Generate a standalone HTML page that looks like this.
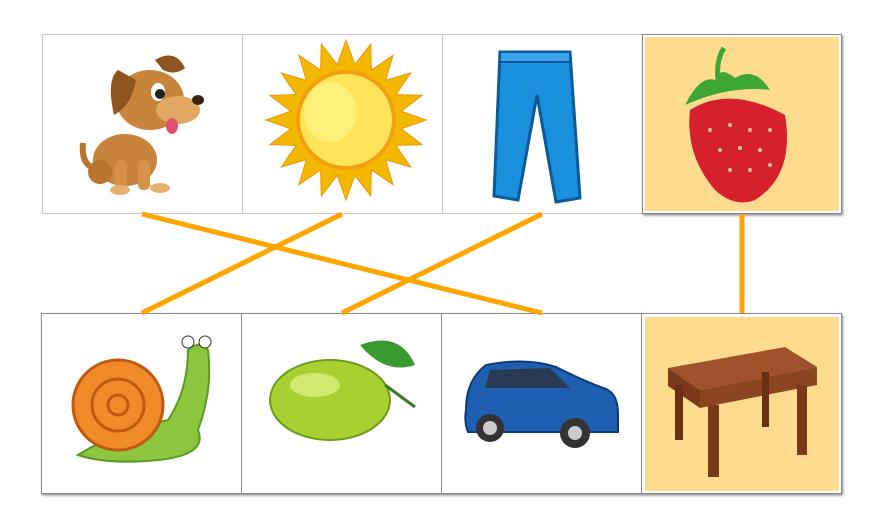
<!DOCTYPE html>
<html><head><meta charset="utf-8"><style>
html,body{margin:0;padding:0;background:#fff;width:882px;height:530px;overflow:hidden}
</style></head><body>
<svg width="882" height="530" viewBox="0 0 882 530">
<defs>
<filter id="sh" x="-5%" y="-5%" width="112%" height="112%"><feDropShadow dx="1" dy="1.5" stdDeviation="1.2" flood-color="#000" flood-opacity="0.45"/></filter>
</defs>
<g>
<rect x="42.5" y="34.5" width="200" height="179" fill="#fff" stroke="#c6c6c6"/>
<rect x="242.5" y="34.5" width="200" height="179" fill="#fff" stroke="#c6c6c6"/>
<rect x="442.5" y="34.5" width="200" height="179" fill="#fff" stroke="#c6c6c6"/>
<g filter="url(#sh)">
<rect x="642.5" y="34.5" width="199" height="179" fill="#fff" stroke="#888"/>
<rect x="645" y="37" width="194" height="174" fill="#fddc90"/>
</g>
</g>
<g filter="url(#sh)">
<rect x="41.5" y="313.5" width="200" height="180" fill="#fff" stroke="#8a8a8a"/>
<rect x="241.5" y="313.5" width="200" height="180" fill="#fff" stroke="#8a8a8a"/>
<rect x="441.5" y="313.5" width="200" height="180" fill="#fff" stroke="#8a8a8a"/>
<rect x="641.5" y="313.5" width="200" height="180" fill="#fff" stroke="#8a8a8a"/>
</g>
<rect x="645" y="317" width="194" height="174" fill="#fddc90"/>

<g id="lines" stroke="#ffa500" stroke-width="5" stroke-linecap="butt"></g>

<g>
<ellipse cx="125" cy="160" rx="32" ry="26" fill="#c8843a"/>
<ellipse cx="100" cy="172" rx="12" ry="12" fill="#b87530"/>
<path d="M93 168 q-12 -5 -10 -25" stroke="#b87530" stroke-width="6" fill="none"/>
<rect x="115" y="160" width="12" height="30" rx="5" fill="#d59248"/>
<rect x="138" y="160" width="12" height="30" rx="5" fill="#d59248"/>
<ellipse cx="120" cy="190" rx="10" ry="5" fill="#e5b070"/>
<ellipse cx="160" cy="188" rx="10" ry="5" fill="#e5b070"/>
<ellipse cx="150" cy="100" rx="34" ry="30" fill="#c8843a"/>
<ellipse cx="178" cy="110" rx="22" ry="14" fill="#e0a862"/>
<ellipse cx="198" cy="100" rx="6" ry="5" fill="#3a2010"/>
<path d="M118 70 q-12 10 -4 45 q18 -10 22 -35z" fill="#8f5520"/>
<path d="M155 60 q20 -12 30 8 q-10 8 -22 2z" fill="#8f5520"/>
<ellipse cx="158" cy="92" rx="7" ry="9" fill="#fff"/><circle cx="160" cy="94" r="5" fill="#222"/>
<ellipse cx="172" cy="126" rx="6" ry="8" fill="#e0506a"/>
</g>
<g>
<polygon id="rays" fill="#f5b800" stroke="#e8950a" stroke-width="1"/>
<circle cx="346" cy="120" r="48" fill="#ffe45a" stroke="#f0a010" stroke-width="4"/>
<ellipse cx="330" cy="112" rx="26" ry="30" fill="#fff07a"/>
</g>
<g>
<path d="M500 52 L570 52 L580 198 L556 202 L537 95 L518 200 L494 196 Z" fill="#1a8fdc" stroke="#0b5a9a" stroke-width="3"/>
<rect x="500" y="52" width="70" height="10" fill="#3aa5ea" stroke="#0b5a9a" stroke-width="2"/>
</g>
<g>
<path d="M690 110 q40 -25 95 5 q10 60 -30 85 q-20 8 -40 -10 q-30 -35 -25 -80z" fill="#d6202e"/>
<path d="M685 105 q15 -30 30 -25 q5 -15 20 -2 q20 -12 35 12 q-40 -5 -85 15z" fill="#3fa535"/>
<path d="M718 80 q-2 -20 6 -32" stroke="#3fa535" stroke-width="5" fill="none"/>
<g fill="#ffc0b0"><circle cx="710" cy="130" r="2"/><circle cx="730" cy="125" r="2"/><circle cx="750" cy="130" r="2"/><circle cx="770" cy="130" r="2"/><circle cx="720" cy="150" r="2"/><circle cx="740" cy="148" r="2"/><circle cx="760" cy="150" r="2"/><circle cx="730" cy="170" r="2"/><circle cx="750" cy="170" r="2"/><circle cx="770" cy="165" r="2"/></g>
</g>
<g>
<path d="M78 455 q40 -25 90 -35 q20 -30 20 -70 q10 -10 20 0 q5 40 -10 80 q10 25 -40 30 q-50 5 -80 -5z" fill="#8cc63f" stroke="#5a9a20" stroke-width="2"/>
<circle cx="118" cy="405" r="45" fill="#f08a2a" stroke="#c05a10" stroke-width="3"/>
<circle cx="118" cy="405" r="26" fill="none" stroke="#c05a10" stroke-width="3"/>
<circle cx="118" cy="405" r="10" fill="none" stroke="#c05a10" stroke-width="3"/>
<circle cx="188" cy="342" r="6" fill="#fff" stroke="#333"/><circle cx="205" cy="342" r="6" fill="#fff" stroke="#333"/>
</g>
<g>
<ellipse cx="330" cy="400" rx="60" ry="40" fill="#a8d030" stroke="#6a9a1a" stroke-width="2"/>
<ellipse cx="315" cy="385" rx="25" ry="12" fill="#d0ea70"/>
<path d="M360 345 q40 -15 55 20 q-30 10 -55 -20z" fill="#3a9a30"/>
<path d="M385 385 l30 22" stroke="#3a7a20" stroke-width="3"/>
</g>
<g>
<path d="M466 410 q0 -30 20 -45 q40 -8 70 2 q30 15 50 22 q12 5 12 25 l0 18 l-150 0 q-4 -10 -2 -22z" fill="#1e5fb0" stroke="#0d3a78" stroke-width="2"/>
<path d="M490 370 l60 -2 l20 20 l-85 0z" fill="#2a3a55"/>
<circle cx="490" cy="428" r="14" fill="#333"/><circle cx="490" cy="428" r="7" fill="#ccc"/>
<circle cx="575" cy="433" r="15" fill="#333"/><circle cx="575" cy="433" r="7" fill="#ccc"/>
</g>
<g>
<polygon points="668,368 785,347 817,367 700,390" fill="#a0522d"/>
<polygon points="668,368 700,390 700,408 668,386" fill="#7a3a1a"/>
<polygon points="700,390 817,367 817,385 700,408" fill="#8b4520"/>
<rect x="708" y="405" width="11" height="72" fill="#7a3a1a"/>
<rect x="797" y="385" width="10" height="70" fill="#7a3a1a"/>
<rect x="675" y="385" width="8" height="55" fill="#6a3015"/>
<rect x="762" y="372" width="7" height="55" fill="#6a3015"/>
</g>
</svg>
<script>
var topItems=["dog","sun","jeans","strawberry"];
var bottomItems=["snail","lemon","car","table"];
var matchTop=[0,1,2,3];
var matchBottom=[2,0,1,3];
var g=document.getElementById('lines');
function cx(i){return 142+200*i;}
for(var k=0;k<matchTop.length;k++){
  var l=document.createElementNS('http://www.w3.org/2000/svg','line');
  l.setAttribute('x1',cx(matchTop[k]));l.setAttribute('y1',214);
  l.setAttribute('x2',cx(matchBottom[k]));l.setAttribute('y2',313);
  
  
  g.appendChild(l);
}
var pts=[];for(var i=0;i<40;i++){var a=i*Math.PI/20;var r=(i%2==0)?80:56;pts.push((346+r*Math.cos(a)).toFixed(1)+','+(120+r*Math.sin(a)).toFixed(1));}
document.getElementById('rays').setAttribute('points',pts.join(' '));
</script>
</body></html>
